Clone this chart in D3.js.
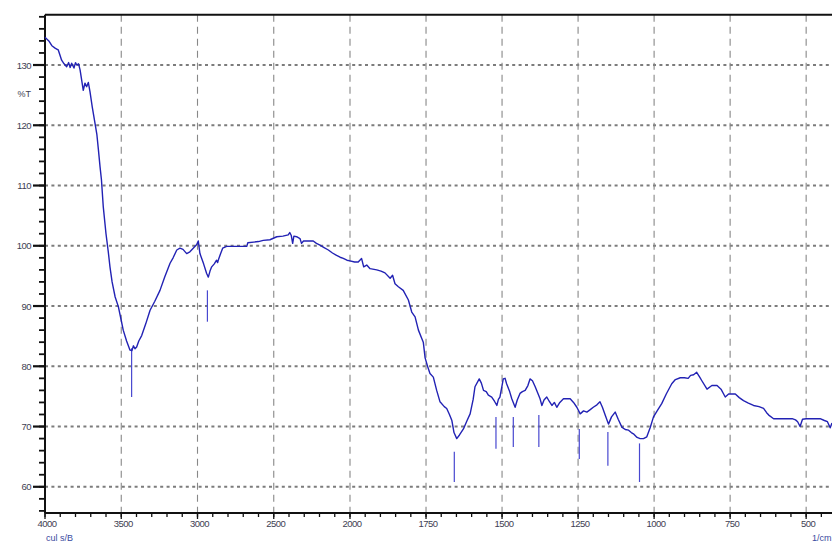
<!DOCTYPE html>
<html><head><meta charset="utf-8">
<script src="https://cdn.jsdelivr.net/npm/d3@7"></script>
<style>html,body{margin:0;padding:0;background:#fff;overflow:hidden}</style>
</head><body>
<svg id="c" width="832" height="542"></svg>
<script>
// ---- data ----
const wavenumbers = [4000,3975,3955,3934,3920,3913,3900,3891,3875,3858,3845,3835,3825,3810,3800,3792,3780,3770,3749,3738,3727,3716,3705,3690,3672,3660,3650,3639,3630,3618,3600,3585,3574,3560,3540,3519,3500,3487,3465,3443,3430,3420,3410,3399,3385,3366,3340,3311,3280,3246,3215,3180,3160,3136,3115,3095,3071,3050,3028,3005,2995,2984,2960,2940,2929,2918,2907,2890,2875,2868,2864,2850,2835,2809,2750,2700,2677,2670,2600,2569,2525,2480,2440,2405,2395,2385,2376,2368,2350,2328,2318,2305,2270,2241,2220,2197,2170,2142,2115,2088,2065,2044,2020,2000,1985,1973,1962,1955,1945,1934,1912,1898,1885,1868,1860,1852,1841,1825,1808,1797,1786,1775,1764,1759,1753,1745,1737,1726,1715,1704,1690,1682,1673,1665,1658,1649,1640,1627,1615,1605,1595,1589,1575,1568,1561,1552,1545,1534,1525,1517,1512,1507,1500,1496,1490,1485,1475,1468,1457,1450,1441,1433,1424,1415,1408,1400,1391,1383,1375,1369,1362,1353,1345,1336,1328,1320,1310,1298,1285,1276,1265,1254,1243,1232,1221,1210,1200,1188,1178,1170,1160,1150,1140,1128,1118,1106,1095,1084,1075,1068,1056,1046,1035,1024,1013,1002,990,975,960,942,930,914,900,888,880,870,860,850,843,826,810,793,780,766,755,733,720,706,690,673,655,640,630,623,607,580,546,535,528,520,512,500,480,454,440,430,421,415];
const transmittance = [134.6,134.0,133.2,132.8,132.6,132.5,131.5,130.8,130.2,129.7,130.4,129.6,130.3,129.5,130.4,130.0,130.2,129.2,125.8,127.0,126.4,127.1,125.6,123.0,120.3,118.5,116.0,113.1,111.0,106.5,102.0,99.0,96.5,94.0,91.5,89.9,87.6,86.0,84.2,82.7,82.6,83.4,82.9,83.2,84.2,85.1,87.0,89.3,90.8,92.6,94.8,97.1,98.0,99.3,99.6,99.4,98.7,99.0,99.6,100.2,100.8,98.7,97.0,95.4,94.8,95.8,96.5,97.0,97.6,97.2,97.6,98.6,99.6,99.9,99.9,99.9,99.9,100.5,100.7,100.9,101.0,101.5,101.6,101.8,102.2,101.7,100.4,101.6,101.5,101.2,100.4,100.8,100.8,100.8,100.4,100.1,99.7,99.3,98.8,98.4,98.1,97.9,97.6,97.5,97.3,97.3,97.9,96.5,96.8,96.2,96.0,95.8,95.5,94.6,95.1,93.7,93.2,92.6,91.0,89.0,88.2,86.0,84.6,84.0,81.4,80.0,78.8,78.2,76.0,74.1,73.3,73.0,72.0,71.0,69.0,68.0,68.6,69.6,71.0,72.1,74.5,76.6,77.9,77.2,76.0,75.8,75.2,74.9,74.2,73.5,74.5,74.9,76.8,77.9,78.0,77.1,75.8,74.6,73.2,74.4,75.5,75.8,76.0,76.8,77.9,77.6,76.6,75.6,74.6,73.5,74.4,74.9,74.2,73.5,74.0,73.2,74.0,74.6,74.6,74.6,74.0,73.2,72.1,72.6,72.4,72.8,73.2,73.6,74.1,73.2,71.8,70.4,71.6,72.4,71.2,69.9,69.5,69.4,69.0,68.8,68.2,68.0,68.0,68.3,69.8,71.6,72.6,73.8,75.4,77.1,77.8,78.1,78.1,78.0,78.5,78.6,79.0,78.2,77.6,76.2,76.8,76.8,76.2,74.9,75.4,75.4,74.8,74.3,73.9,73.5,73.3,73.0,72.3,71.9,71.3,71.3,71.3,71.1,70.8,70.0,71.2,71.3,71.3,71.3,71.0,70.8,69.8,70.6];

// peak markers (wavenumber, top %T, bottom %T)
const peakWn     = [3432, 2935, 1657, 1520, 1463, 1379, 1246, 1152, 1048];
const peakTop    = [83.0, 92.6, 65.8, 71.6, 71.6, 71.9, 69.6, 69.1, 67.2];
const peakBottom = [74.9, 87.4, 60.8, 66.3, 66.6, 66.6, 64.6, 63.5, 60.8];

const xTickLabels = [4000,3500,3000,2500,2000,1750,1500,1250,1000,750,500];
const yTickLabels = [60,70,80,90,100,110,120,130];

(function () {
// ---- scales ----
const svg = d3.select("#c");
const x = d3.scaleLinear().domain([4000, 2000, 415]).range([45, 350, 832]);
const y = d3.scaleLinear().domain([55.65, 138.35]).range([513, 14.7]);

const pL = 45, pR = 832, pT = 14.7, pB = 513;

// grid
const g = svg.append("g");
g.selectAll("line.hg").data(yTickLabels).enter().append("line")
  .attr("x1", pL).attr("x2", pR)
  .attr("y1", d => y(d)).attr("y2", d => y(d))
  .attr("stroke", "#7c7c7c").attr("stroke-width", 1.9).attr("stroke-dasharray", "3,3.4");
g.selectAll("line.vg").data(xTickLabels.filter(d => d !== 4000)).enter().append("line")
  .attr("x1", d => x(d)).attr("x2", d => x(d))
  .attr("y1", pT).attr("y2", pB)
  .attr("stroke", "#888").attr("stroke-width", 1.1).attr("stroke-dasharray", "7,5");

// minor ticks
const yMinor = d3.range(56, 139, 2);
svg.append("g").selectAll("line").data(yMinor).enter().append("line")
  .attr("x1", pL - 6).attr("x2", pL)
  .attr("y1", d => y(d)).attr("y2", d => y(d))
  .attr("stroke", "#111").attr("stroke-width", 1.8);
svg.append("g").selectAll("line").data(yTickLabels).enter().append("line")
  .attr("x1", pL - 12).attr("x2", pL)
  .attr("y1", d => y(d)).attr("y2", d => y(d))
  .attr("stroke", "#111").attr("stroke-width", 2.2);

const xMinor = d3.range(4000, 2000, -100).concat(d3.range(2000, 414, -50));
svg.append("g").selectAll("line").data(xMinor).enter().append("line")
  .attr("x1", d => x(d)).attr("x2", d => x(d))
  .attr("y1", pB).attr("y2", pB + 4)
  .attr("stroke", "#111").attr("stroke-width", 1.3);
svg.append("g").selectAll("line").data(xTickLabels).enter().append("line")
  .attr("x1", d => x(d)).attr("x2", d => x(d))
  .attr("y1", pB).attr("y2", pB + 6)
  .attr("stroke", "#111").attr("stroke-width", 1.3);

// axes frame
svg.append("line").attr("x1", pL).attr("x2", pR).attr("y1", pT).attr("y2", pT)
  .attr("stroke", "#111").attr("stroke-width", 2);
svg.append("line").attr("x1", pL).attr("x2", pL).attr("y1", pT).attr("y2", pB)
  .attr("stroke", "#111").attr("stroke-width", 2);
svg.append("line").attr("x1", pL).attr("x2", pR).attr("y1", pB).attr("y2", pB)
  .attr("stroke", "#111").attr("stroke-width", 2);

// labels
const ff = "Liberation Sans, Arial, sans-serif", fc = "#3e3e52";
svg.append("g").selectAll("text").data(yTickLabels).enter().append("text")
  .attr("x", 31).attr("y", d => y(d) + 3.5).attr("text-anchor", "end")
  .attr("font-family", ff).attr("font-size", 9.5).attr("fill", fc)
  .attr("letter-spacing", -0.5)
  .text(d => d);
svg.append("text").attr("x", 31).attr("y", 97).attr("text-anchor", "end")
  .attr("font-family", ff).attr("font-size", 9).attr("fill", fc).text("%T");
svg.append("g").selectAll("text").data(xTickLabels).enter().append("text")
  .attr("x", d => x(d) + 2).attr("y", pB + 14).attr("text-anchor", "middle")
  .attr("font-family", ff).attr("font-size", 9.5).attr("fill", fc)
  .attr("letter-spacing", -0.5)
  .text(d => d);
svg.append("text").attr("x", 46).attr("y", 541).attr("font-family", ff)
  .attr("font-size", 9).attr("fill", "#3a4aa0").text("cul s/B");
svg.append("text").attr("x", 812).attr("y", 541).attr("font-family", ff)
  .attr("font-size", 9).attr("fill", "#3a4aa0").text("1/cm");

// peak markers
svg.append("g").selectAll("line").data(peakWn).enter().append("line")
  .attr("x1", d => x(d)).attr("x2", d => x(d))
  .attr("y1", (d, i) => y(peakTop[i])).attr("y2", (d, i) => y(peakBottom[i]))
  .attr("stroke", "#4848d0").attr("stroke-width", 1.2);

// spectrum
const pts = wavenumbers.map((w, i) => [w, transmittance[i]]);
svg.append("path").datum(pts)
  .attr("d", d3.line().x(d => x(d[0])).y(d => y(d[1])))
  .attr("fill", "none").attr("stroke", "#2222b4").attr("stroke-width", 1.4)
  .attr("stroke-linejoin", "round");
})();
</script>
</body></html>
